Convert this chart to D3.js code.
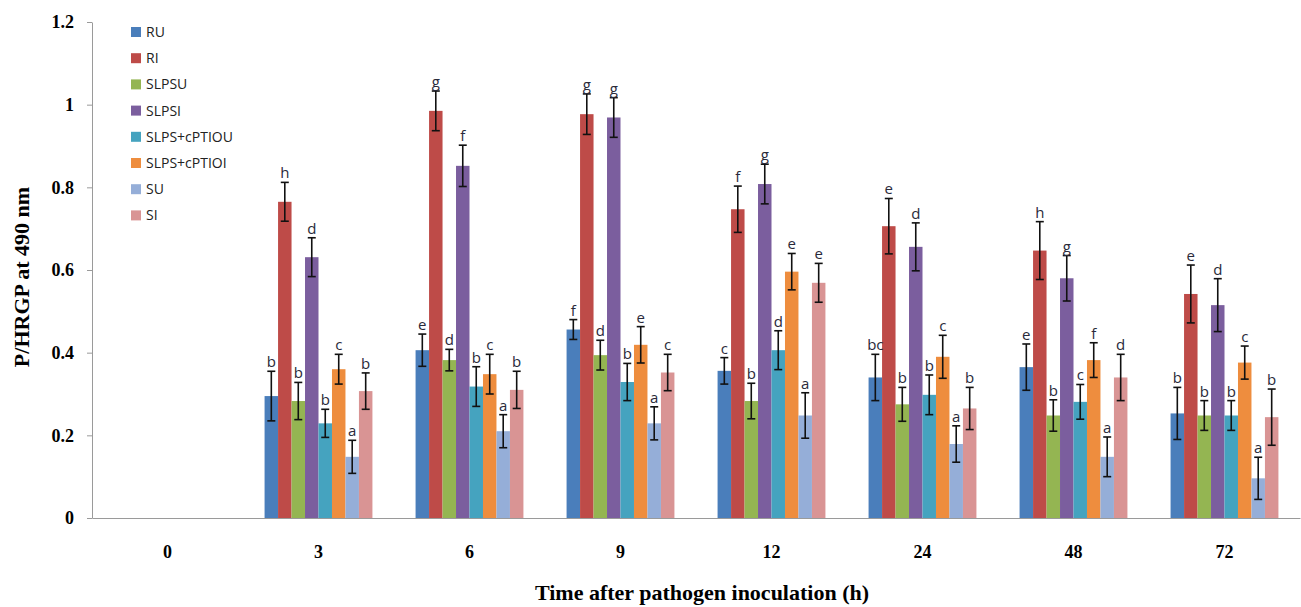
<!DOCTYPE html>
<html>
<head>
<meta charset="utf-8">
<script src="https://cdn.jsdelivr.net/npm/d3@7"></script>
<style>
  body { margin: 0; background: #fff; }
  svg { display: block; }
  .axis path, .axis line { stroke: #9a9a9a; }
  .axis text { font-family: "Liberation Serif", "Times New Roman", serif; font-weight: bold; fill: #000; }
</style>
</head>
<body>
<div id="chart"></div>
<script>
// Data
const times = ['0', '3', '6', '9', '12', '24', '48', '72'];
const series = ['RU', 'RI', 'SLPSU', 'SLPSI', 'SLPS+cPTIOU', 'SLPS+cPTIOI', 'SU', 'SI'];
const colors = ['#4a7ebb', '#be4b48', '#94b552', '#7b5e9e', '#45a3bf', '#ee8d3e', '#95aed8', '#d99494'];

// values per series, one per time point (0 h has no bars)
const RU    = [0, 0.295, 0.406, 0.456, 0.356, 0.340, 0.365, 0.253];
const RI    = [0, 0.765, 0.985, 0.977, 0.747, 0.706, 0.647, 0.542];
const SLPSU = [0, 0.283, 0.382, 0.394, 0.283, 0.275, 0.248, 0.248];
const SLPSI = [0, 0.631, 0.852, 0.969, 0.808, 0.656, 0.580, 0.515];
const CPU   = [0, 0.229, 0.318, 0.329, 0.406, 0.298, 0.281, 0.248];
const CPI   = [0, 0.360, 0.348, 0.419, 0.596, 0.390, 0.382, 0.376];
const SU    = [0, 0.148, 0.210, 0.229, 0.248, 0.179, 0.148, 0.096];
const SI    = [0, 0.307, 0.310, 0.352, 0.569, 0.265, 0.340, 0.244];

// error (half range)
const errRU    = [0, 0.060, 0.039, 0.024, 0.032, 0.056, 0.056, 0.063];
const errRI    = [0, 0.047, 0.048, 0.049, 0.056, 0.067, 0.070, 0.070];
const errSLPSU = [0, 0.045, 0.026, 0.036, 0.043, 0.041, 0.038, 0.036];
const errSLPSI = [0, 0.047, 0.050, 0.048, 0.048, 0.058, 0.055, 0.064];
const errCPU   = [0, 0.034, 0.048, 0.045, 0.047, 0.048, 0.042, 0.036];
const errCPI   = [0, 0.036, 0.048, 0.044, 0.044, 0.052, 0.042, 0.040];
const errSU    = [0, 0.040, 0.040, 0.040, 0.055, 0.044, 0.048, 0.051];
const errSI    = [0, 0.044, 0.045, 0.044, 0.047, 0.051, 0.056, 0.068];

// significance letters
const letRU    = ['', 'b', 'e', 'f', 'c', 'bc', 'e', 'b'];
const letRI    = ['', 'h', 'g', 'g', 'f', 'e', 'h', 'e'];
const letSLPSU = ['', 'b', 'd', 'd', 'b', 'b', 'b', 'b'];
const letSLPSI = ['', 'd', 'f', 'g', 'g', 'd', 'g', 'd'];
const letCPU   = ['', 'b', 'b', 'b', 'd', 'b', 'c', 'b'];
const letCPI   = ['', 'c', 'c', 'e', 'e', 'c', 'f', 'c'];
const letSU    = ['', 'a', 'a', 'a', 'a', 'a', 'a', 'a'];
const letSI    = ['', 'b', 'b', 'c', 'e', 'b', 'd', 'b'];

const yTicks = [0, 0.2, 0.4, 0.6, 0.8, 1, 1.2];

const values = [RU, RI, SLPSU, SLPSI, CPU, CPI, SU, SI];
const errors = [errRU, errRI, errSLPSU, errSLPSI, errCPU, errCPI, errSU, errSI];
const letters = [letRU, letRI, letSLPSU, letSLPSI, letCPU, letCPI, letSU, letSI];

// flatten to rows
const rows = [];
times.forEach((t, ti) => {
  series.forEach((s, si) => {
    if (values[si][ti] > 0) {
      rows.push({ time: t, series: s, value: values[si][ti], err: errors[si][ti], letter: letters[si][ti], color: colors[si] });
    }
  });
});

// Chart dimensions
const width = 1301;
const height = 607;
const plot = { left: 92, right: 1300, top: 22, bottom: 518 };

const svg = d3.select('#chart')
  .append('svg')
  .attr('width', width)
  .attr('height', height);

// Scales
const x0 = d3.scaleBand()
  .domain(times)
  .range([plot.left, plot.right])
  .padding(0);

const x1 = d3.scaleBand()
  .domain(series)
  .range([0, x0.bandwidth()])
  .paddingInner(0)
  .paddingOuter(1.6);

const y = d3.scaleLinear()
  .domain([0, 1.2])
  .range([plot.bottom, plot.top]);

// Bars
svg.append('g')
  .selectAll('rect')
  .data(rows)
  .enter()
  .append('rect')
  .attr('x', d => x0(d.time) + x1(d.series))
  .attr('y', d => y(d.value))
  .attr('width', x1.bandwidth())
  .attr('height', d => y(0) - y(d.value))
  .attr('fill', d => d.color);

// Error bars
const eb = svg.append('g')
  .attr('stroke', '#111')
  .attr('stroke-width', 1.6);

rows.forEach(d => {
  const cx = x0(d.time) + x1(d.series) + x1.bandwidth() / 2;
  const y1 = y(d.value + d.err);
  const y2 = y(d.value - d.err);
  eb.append('line').attr('x1', cx).attr('x2', cx).attr('y1', y1).attr('y2', y2);
  eb.append('line').attr('x1', cx - 4).attr('x2', cx + 4).attr('y1', y1).attr('y2', y1);
  eb.append('line').attr('x1', cx - 4).attr('x2', cx + 4).attr('y1', y2).attr('y2', y2);
});

// Letters
svg.append('g')
  .selectAll('text')
  .data(rows)
  .enter()
  .append('text')
  .attr('x', d => x0(d.time) + x1(d.series) + x1.bandwidth() / 2)
  .attr('y', d => y(d.value + d.err) - 4)
  .attr('text-anchor', 'middle')
  .attr('font-family', '"Open Sans", "Noto Sans", sans-serif')
  .attr('font-size', 15)
  .attr('fill', '#2a2a3a')
  .text(d => d.letter);

// Y axis
svg.append('g')
  .attr('class', 'axis')
  .attr('transform', `translate(${plot.left},0)`)
  .call(d3.axisLeft(y).tickValues(yTicks).tickFormat(d => d).tickSize(5).tickSizeOuter(0).tickPadding(13))
  .selectAll('text')
  .attr('font-size', 18);

// X axis
svg.append('g')
  .attr('class', 'axis')
  .attr('transform', `translate(0,${plot.bottom})`)
  .call(d3.axisBottom(x0).tickSize(0).tickSizeOuter(0).tickPadding(27))
  .selectAll('text')
  .attr('font-size', 18);

// Axis titles
svg.append('text')
  .attr('x', (plot.left + plot.right) / 2 + 6)
  .attr('y', 600)
  .attr('text-anchor', 'middle')
  .attr('font-family', '"Liberation Serif", serif')
  .attr('font-weight', 'bold')
  .attr('font-size', 22)
  .text('Time after pathogen inoculation (h)');

svg.append('text')
  .attr('transform', 'translate(29,277) rotate(-90)')
  .attr('text-anchor', 'middle')
  .attr('font-family', '"Liberation Serif", serif')
  .attr('font-weight', 'bold')
  .attr('font-size', 22)
  .text('P/HRGP at 490 nm');

// Legend
const legend = svg.append('g')
  .attr('transform', 'translate(131,32)');

series.forEach((s, i) => {
  const g = legend.append('g').attr('transform', `translate(0,${i * 26.2})`);
  g.append('rect')
    .attr('x', 0).attr('y', -5)
    .attr('width', 10).attr('height', 10)
    .attr('fill', colors[i]);
  g.append('text')
    .attr('x', 15).attr('y', 5)
    .attr('font-family', '"Open Sans", "Noto Sans", sans-serif')
    .attr('font-size', 14)
    .attr('fill', '#222')
    .text(s);
});
</script>
</body>
</html>
